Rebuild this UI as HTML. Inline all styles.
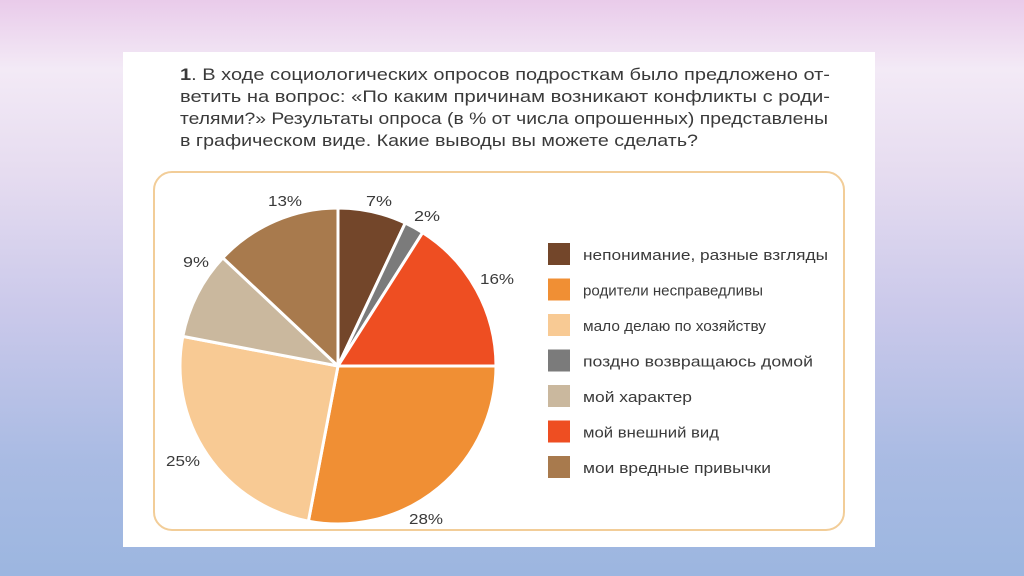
<!DOCTYPE html>
<html><head><meta charset="utf-8"><style>
html,body{margin:0;padding:0}
body{width:1024px;height:576px;overflow:hidden;background:linear-gradient(180deg,#e9cbea 0%,#f3eaf6 12%,#e6dcf0 30%,#c9c8ea 55%,#a9bbe3 80%,#9cb6e0 100%);font-family:"Liberation Sans",sans-serif}
</style></head><body>
<svg id="s" width="1024" height="576" style="position:absolute;left:0;top:0" font-family="Liberation Sans, sans-serif">
<rect x="123" y="52" width="752" height="495" fill="#fff"/>
<g fill="#3a3a3a" font-size="17">
<text x="180" y="80" textLength="650" lengthAdjust="spacingAndGlyphs"><tspan font-weight="bold">1</tspan>. В ходе социологических опросов подросткам было предложено от-</text>
<text x="180" y="102" textLength="650" lengthAdjust="spacingAndGlyphs">ветить на вопрос: «По каким причинам возникают конфликты с роди-</text>
<text x="180" y="124" textLength="648" lengthAdjust="spacingAndGlyphs">телями?» Результаты опроса (в % от числа опрошенных) представлены</text>
<text x="180" y="146" textLength="518" lengthAdjust="spacingAndGlyphs">в графическом виде. Какие выводы вы можете сделать?</text>
</g>
<rect x="154" y="172" width="690" height="358" rx="18" fill="none" stroke="#f2cd98" stroke-width="2"/>
<g id="pie"></g>
<g fill="#3a3a3a" font-size="15">
<text x="366" y="206" textLength="26" lengthAdjust="spacingAndGlyphs">7%</text>
<text x="414" y="221" textLength="26" lengthAdjust="spacingAndGlyphs">2%</text>
<text x="480" y="284" textLength="34" lengthAdjust="spacingAndGlyphs">16%</text>
<text x="409" y="524" textLength="34" lengthAdjust="spacingAndGlyphs">28%</text>
<text x="166" y="466" textLength="34" lengthAdjust="spacingAndGlyphs">25%</text>
<text x="183" y="267" textLength="26" lengthAdjust="spacingAndGlyphs">9%</text>
<text x="268" y="206" textLength="34" lengthAdjust="spacingAndGlyphs">13%</text>
</g>
<g id="leg" font-size="15" fill="#3a3a3a"></g>
</svg>
<script>
var cx=338,cy=366,r=158;
var d=[[7,"#73462a"],[2,"#7b7b7b"],[16,"#ee4e22"],[28,"#f08f34"],[25,"#f8ca94"],[9,"#cab89e"],[13,"#a87a4d"]];
var a=0,h="";
d.forEach(function(x){var a0=a/100*2*Math.PI,a1=(a+x[0])/100*2*Math.PI;a+=x[0];
var x0=cx+r*Math.sin(a0),y0=cy-r*Math.cos(a0),x1=cx+r*Math.sin(a1),y1=cy-r*Math.cos(a1);
h+='<path d="M'+cx+','+cy+'L'+x0+','+y0+'A'+r+','+r+' 0 '+(x[0]>50?1:0)+' 1 '+x1+','+y1+'Z" fill="'+x[1]+'" stroke="#fff" stroke-width="3" stroke-linejoin="round"/>';});
document.getElementById("pie").innerHTML=h;
var L=[["непонимание, разные взгляды","#73462a",245],["родители несправедливы","#f08f34",180],["мало делаю по хозяйству","#f8ca94",183],["поздно возвращаюсь домой","#7b7b7b",230],["мой характер","#cab89e",109],["мой внешний вид","#ee4e22",136],["мои вредные привычки","#a87a4d",188]];
var g="";
L.forEach(function(l,i){var y=243+i*35.5;
g+='<rect x="548" y="'+y+'" width="22" height="22" fill="'+l[1]+'"/>';
g+='<text x="583" y="'+(y+17)+'" textLength="'+l[2]+'" lengthAdjust="spacingAndGlyphs">'+l[0]+'</text>';});
document.getElementById("leg").innerHTML=g;
</script>
</body></html>
